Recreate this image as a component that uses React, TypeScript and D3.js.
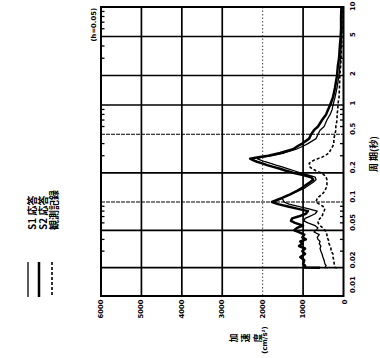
import React from "react";
import * as d3 from "d3";

// ---- data ----
const periods = [
  0.02, 0.0201, 0.021, 0.022, 0.024, 0.026, 0.028, 0.03, 0.032, 0.034, 0.036, 0.038,
  0.04, 0.042, 0.045, 0.048, 0.05, 0.053, 0.056, 0.06, 0.063, 0.067, 0.07, 0.075,
  0.08, 0.085, 0.09, 0.095, 0.1, 0.11, 0.12, 0.13, 0.14, 0.15, 0.16, 0.17,
  0.18, 0.19, 0.2, 0.21, 0.22, 0.23, 0.24, 0.25, 0.26, 0.27, 0.28, 0.29,
  0.3, 0.32, 0.35, 0.38, 0.4, 0.45, 0.5, 0.55, 0.6, 0.7, 0.8, 0.9,
  1, 1.2, 1.5, 2, 2.5, 3, 4, 5, 6, 8, 10,
];
const s1Response = [
  380, 460, 430, 460, 480, 510, 530, 560, 580, 560, 600, 580,
  630, 650, 600, 730, 680, 630, 700, 880, 980, 950, 850, 700,
  650, 880, 1120, 1350, 1470, 1520, 1320, 1120, 950, 850, 750, 680,
  700, 880, 1070, 1220, 1370, 1520, 1670, 1800, 1940, 2050, 2140, 2010,
  1770, 1470, 1170, 980, 880, 680, 630, 580, 480, 410, 330, 280,
  260, 210, 160, 110, 90, 70, 60, 50, 40, 40, 40,
];
const s2Response = [
  580, 970, 950, 1000, 970, 1070, 950, 1020, 950, 1100, 1020, 1070,
  930, 1020, 970, 1120, 1220, 1150, 1000, 1200, 1300, 1270, 1120, 930,
  880, 1150, 1400, 1620, 1770, 1520, 1320, 1150, 1020, 930, 830, 750,
  800, 1000, 1250, 1420, 1570, 1740, 1890, 2010, 2140, 2240, 2310, 2110,
  1860, 1570, 1250, 1120, 1020, 850, 800, 730, 630, 530, 430, 380,
  330, 260, 210, 160, 140, 110, 90, 70, 60, 60, 50,
];
const observed = [
  160, 210, 220, 230, 240, 260, 260, 310, 310, 330, 360, 360,
  380, 410, 410, 430, 460, 510, 580, 630, 630, 580, 530, 510,
  480, 460, 510, 600, 680, 650, 530, 460, 430, 410, 410, 410,
  430, 480, 560, 680, 780, 830, 830, 850, 800, 730, 630, 530,
  460, 360, 310, 260, 240, 240, 210, 190, 190, 160, 160, 140,
  140, 110, 100, 90, 70, 60, 50, 40, 40, 30, 30,
];

const accelTicks = [0, 1000, 2000, 3000, 4000, 5000, 6000];
const accelGrid = [1000, 2000, 3000, 4000, 5000];
const accelDotted = [2000];
const periodTicks = [0.01, 0.02, 0.05, 0.1, 0.2, 0.5, 1, 2, 5, 10];
const periodTickLabels = ["0.01", "0.02", "0.05", "0.1", "0.2", "0.5", "1", "2", "5", "10"];
const periodGrid = [0.02, 0.05, 0.1, 0.2, 0.5, 1, 2, 5];
const periodLight = [0.1, 0.5];
const legendLabels = ["S1 応答", "S2 応答", "観測記録"];
const dampingLabel = "(h=0.05)";
const periodTitle = "周 期(秒)";
const accelTitleChars = ["加", "速", "度"];
const accelUnit = "(cm/s²)";

const W = 380;
const H = 358;

export default function App() {
  // period axis runs vertically (chart is rotated 90° counter-clockwise)
  const y = d3.scaleLog().domain([0.01, 0.1, 1, 10]).range([296, 202, 105, 7]);
  const x = d3.scaleLinear().domain([0, 6000]).range([343.5, 101]);

  const mk = (vals: number[]) =>
    d3
      .line<number>()
      .x((_, i) => x(vals[i]))
      .y((_, i) => y(periods[i]))
      .curve(d3.curveLinear)(periods) || "";

  const minor: number[] = [];
  [0.01, 0.1, 1].forEach((dec) => {
    [3, 4, 6, 7, 8, 9].forEach((m) => minor.push(dec * m));
  });

  const left = x(6000);
  const right = x(0);
  const top = y(10);
  const bottom = y(0.01);

  const numFont = "'DejaVu Sans', 'Liberation Sans', sans-serif";
  const jpFont = "'Noto Sans CJK JP', 'Noto Sans', sans-serif";

  const rot = (cx: number, cy: number) => `translate(${cx},${cy}) rotate(-90)`;

  const series = [
    { vals: s1Response, w: 1.3, dash: undefined as string | undefined },
    { vals: s2Response, w: 2.5, dash: undefined as string | undefined },
    { vals: observed, w: 1.6, dash: "3,2" },
  ];

  const legendX = [28, 39, 52];
  const legendTextX = [31.5, 42, 53];

  const periodLabelY = (p: number) => {
    if (p === 0.01) return y(p) - 3;
    if (p === 10) return y(p) + 4;
    return y(p) + 0.5;
  };

  return (
    <svg
      width={W}
      height={H}
      viewBox={`0 0 ${W} ${H}`}
      style={{ position: "absolute", left: 0, top: 0, background: "#fff" }}
    >
      <rect x={0} y={0} width={W} height={H} fill="#fff" />

      {/* grid lines along period */}
      {periodGrid.map((p) => {
        const light = periodLight.includes(p);
        return (
          <line
            key={"pg" + p}
            x1={left}
            x2={right}
            y1={y(p)}
            y2={y(p)}
            stroke="#000"
            strokeWidth={light ? 1.1 : 1.7}
            strokeDasharray={light ? "4,1" : undefined}
          />
        );
      })}
      {/* grid lines along acceleration */}
      {accelGrid.map((a) => {
        const dotted = accelDotted.includes(a);
        return (
          <line
            key={"ag" + a}
            x1={x(a)}
            x2={x(a)}
            y1={top}
            y2={bottom}
            stroke={dotted ? "#333" : "#000"}
            strokeWidth={dotted ? 0.9 : 1.7}
            strokeDasharray={dotted ? "1.5,2" : undefined}
          />
        );
      })}
      {/* minor ticks */}
      {minor.map((p) => (
        <g key={"mt" + p}>
          <line x1={left} x2={left + 3.5} y1={y(p)} y2={y(p)} stroke="#000" strokeWidth={1.3} />
          <line x1={right} x2={right - 3.5} y1={y(p)} y2={y(p)} stroke="#000" strokeWidth={1.3} />
        </g>
      ))}
      {/* frame */}
      <rect
        x={left}
        y={top}
        width={right - left}
        height={bottom - top}
        fill="none"
        stroke="#000"
        strokeWidth={2}
      />

      {/* curves */}
      {series.map((s, i) => (
        <path
          key={"s" + i}
          d={mk(s.vals)}
          fill="none"
          stroke="#000"
          strokeWidth={s.w}
          strokeDasharray={s.dash}
          strokeLinejoin="round"
        />
      ))}

      {/* acceleration tick labels */}
      {accelTicks.map((a) => (
        <text
          key={"al" + a}
          transform={rot(x(a) + (a === 0 ? 1.5 : 0), 299.5)}
          textAnchor="end"
          dominantBaseline="central"
          fontFamily={numFont}
          fontWeight="bold"
          fontSize={6.8}
          fill="#000"
        >
          {a}
        </text>
      ))}

      {/* period tick labels */}
      {periodTicks.map((p, i) => (
        <text
          key={"pl" + p}
          transform={rot(352.5, periodLabelY(p))}
          textAnchor="start"
          dominantBaseline="central"
          fontFamily={numFont}
          fontWeight="bold"
          fontSize={6.8}
          fill="#000"
        >
          {periodTickLabels[i]}
        </text>
      ))}

      {/* period axis title */}
      <text
        transform={rot(373.5, 154)}
        textAnchor="middle"
        dominantBaseline="central"
        fontFamily={jpFont}
        fontWeight="bold"
        fontSize={9}
        fill="#000"
      >
        {periodTitle}
      </text>

      {/* acceleration axis title */}
      {accelTitleChars.map((c, i) => (
        <text
          key={"at" + i}
          transform={rot(233 + i * 12, 338)}
          textAnchor="middle"
          dominantBaseline="central"
          fontFamily={jpFont}
          fontWeight="bold"
          fontSize={9}
          fill="#000"
        >
          {c}
        </text>
      ))}
      <text
        transform={rot(265, 340)}
        textAnchor="middle"
        dominantBaseline="central"
        fontFamily={numFont}
        fontWeight="bold"
        fontSize={7}
        fill="#000"
      >
        {accelUnit}
      </text>

      {/* damping annotation */}
      <text
        transform={rot(94, 8)}
        textAnchor="end"
        dominantBaseline="central"
        fontFamily={numFont}
        fontWeight="bold"
        fontSize={6.8}
        fill="#000"
      >
        {dampingLabel}
      </text>

      {/* legend */}
      {series.map((s, i) => (
        <g key={"lg" + i}>
          <line
            x1={legendX[i]}
            x2={legendX[i]}
            y1={262}
            y2={297}
            stroke="#000"
            strokeWidth={s.w}
            strokeDasharray={s.dash}
          />
          <text
            transform={rot(legendTextX[i], 230)}
            textAnchor="start"
            dominantBaseline="central"
            fontFamily={jpFont}
            fontWeight="bold"
            fontSize={10}
            fill="#000"
          >
            {legendLabels[i]}
          </text>
        </g>
      ))}
    </svg>
  );
}
